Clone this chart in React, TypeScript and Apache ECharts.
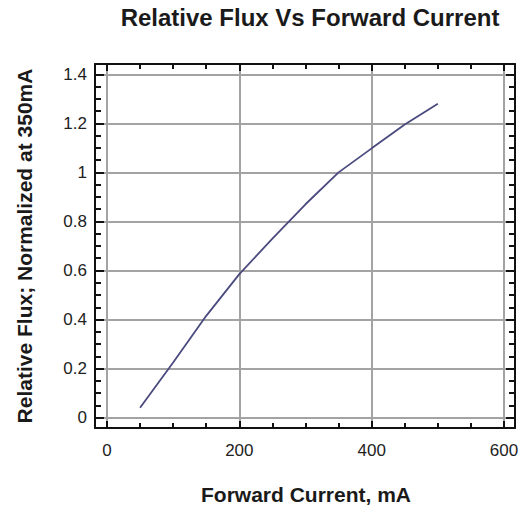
import React, { useEffect, useRef } from "react";
import * as echarts from "echarts";

// Data
const currentMA = [50, 100, 150, 200, 250, 300, 350, 400, 450, 500];
const relFlux = [0.04, 0.225, 0.415, 0.585, 0.73, 0.87, 1.0, 1.098, 1.195, 1.28];

// Tick values
const xMajor = [0, 200, 400, 600];
const xMinor = [50, 100, 150, 250, 300, 350, 450, 500, 550];
const yMajor = [0, 0.2, 0.4, 0.6, 0.8, 1, 1.2, 1.4];
const yMinor = [0.05, 0.1, 0.15, 0.25, 0.3, 0.35, 0.45, 0.5, 0.55, 0.65, 0.7, 0.75, 0.85, 0.9, 0.95, 1.05, 1.1, 1.15, 1.25, 1.3, 1.35];

const titleText = "Relative Flux Vs Forward Current";
const xName = "Forward Current, mA";
const yName = "Relative Flux; Normalized at 350mA";

const FONT = "'Liberation Sans', Arial, Helvetica, sans-serif";

export default function App() {
  const ref = useRef<HTMLDivElement>(null);
  useEffect(() => {
    if (!ref.current) return;
    const chart = echarts.init(ref.current, undefined, { renderer: "svg" });
    const xMin = -18.1, xMax = 616.6, yMin = -0.0424, yMax = 1.442;
    const baseX = (pos: string, custom: number[], major: boolean, idx: number) => ({
      type: "value",
      position: pos,
      min: xMin,
      max: xMax,
      axisLine: { show: major, onZero: false, lineStyle: { color: "#111", width: 2 } },
      axisTick: { show: true, inside: true, customValues: custom, length: major ? 7 : 5, lineStyle: { color: "#111", width: 2 } },
      axisLabel: idx === 0
        ? { show: true, customValues: xMajor, margin: 14, fontSize: 17, color: "#222", fontFamily: FONT }
        : { show: false },
      splitLine: idx === 0 ? { show: true, lineStyle: { color: "#a3a3a3", width: 2 } } : { show: false },
    });
    const baseY = (pos: string, custom: number[], major: boolean, idx: number) => ({
      type: "value",
      position: pos,
      min: yMin,
      max: yMax,
      axisLine: { show: major, onZero: false, lineStyle: { color: "#111", width: 2 } },
      axisTick: { show: true, inside: true, customValues: custom, length: major ? 9 : 6, lineStyle: { color: "#111", width: 2 } },
      axisLabel: idx === 0
        ? { show: true, customValues: yMajor, margin: 8, fontSize: 17, color: "#222", fontFamily: FONT }
        : { show: false },
      splitLine: idx === 0 ? { show: true, lineStyle: { color: "#a3a3a3", width: 2 } } : { show: false },
    });
    chart.setOption({
      animation: false,
      backgroundColor: "#ffffff",
      grid: { left: 95, top: 64, width: 420, height: 364, containLabel: false },
      xAxis: [
        baseX("bottom", xMajor, true, 0),
        baseX("bottom", xMinor, false, 1),
        baseX("top", xMajor, true, 2),
        baseX("top", xMinor, false, 3),
      ],
      yAxis: [
        baseY("left", yMajor, true, 0),
        baseY("left", yMinor, false, 1),
        baseY("right", yMajor, true, 2),
        baseY("right", yMinor, false, 3),
      ],
      series: [
        {
          type: "line",
          xAxisIndex: 0,
          yAxisIndex: 0,
          data: currentMA.map((c, i) => [c, relFlux[i]]),
          showSymbol: false,
          symbol: "none",
          lineStyle: { color: "#4a4a7e", width: 1.8 },
          z: 10,
        },
      ],
      graphic: [
        {
          type: "text",
          x: 310,
          y: 17,
          style: {
            text: titleText,
            font: `bold 24px ${FONT}`,
            fill: "#1a1a1a",
            textAlign: "center",
            textVerticalAlign: "middle",
          },
        },
        {
          type: "text",
          x: 306,
          y: 494,
          style: {
            text: xName,
            font: `bold 21px ${FONT}`,
            fill: "#1a1a1a",
            textAlign: "center",
            textVerticalAlign: "middle",
          },
        },
        {
          type: "text",
          x: 24,
          y: 246,
          rotation: Math.PI / 2,
          style: {
            text: yName,
            font: `bold 21px ${FONT}`,
            fill: "#1a1a1a",
            textAlign: "center",
            textVerticalAlign: "middle",
          },
        },
      ],
    });
    return () => chart.dispose();
  }, []);
  return (
    <div
      ref={ref}
      style={{ position: "absolute", left: 0, top: 0, width: 530, height: 510, background: "#fff" }}
    />
  );
}
